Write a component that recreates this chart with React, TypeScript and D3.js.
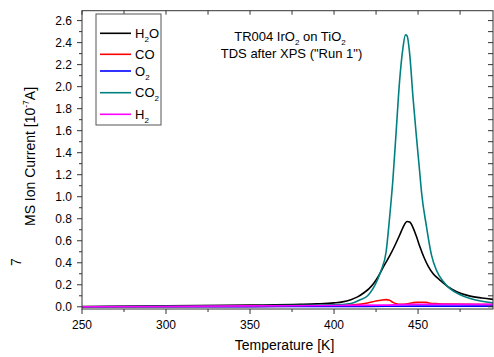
import React from "react";
import * as d3 from "d3";

const seriesNames = ["H2O", "CO", "O2", "CO2", "H2"];
const seriesColors = ["#000000", "#ff0000", "#0000ff", "#008080", "#ff00ff"];

const h2oT = [250, 300, 350, 380, 390, 400, 405, 410, 414, 418, 421, 424, 426.5, 430, 433, 436, 439, 441, 443.5, 445, 447, 449, 451, 453.5, 456, 459, 463, 468, 473, 481, 488, 495];
const h2oV = [0.003, 0.008, 0.015, 0.022, 0.027, 0.036, 0.045, 0.065, 0.09, 0.13, 0.167, 0.22, 0.28, 0.38, 0.46, 0.55, 0.65, 0.72, 0.775, 0.77, 0.72, 0.64, 0.55, 0.45, 0.37, 0.3, 0.243, 0.18, 0.137, 0.097, 0.08, 0.067];

const coT = [250, 350, 400, 410, 415, 420, 425, 428, 431, 433, 435, 437, 440, 443, 446, 449, 452, 455, 457, 462, 470, 480, 495];
const coV = [0.0, 0.003, 0.008, 0.015, 0.022, 0.035, 0.052, 0.06, 0.065, 0.06, 0.04, 0.028, 0.022, 0.025, 0.035, 0.04, 0.042, 0.04, 0.032, 0.028, 0.025, 0.022, 0.02];

const o2T = [250, 350, 420, 450, 495];
const o2V = [0.0, 0.002, 0.004, 0.006, 0.006];

const co2T = [250, 300, 350, 400, 410, 415, 420, 423, 426, 428, 431, 433, 435, 437, 439, 441, 442.5, 443.5, 445, 447, 449, 451, 452, 455, 458, 461, 465, 469, 475, 481, 488, 495];
const co2V = [0.0, 0.004, 0.01, 0.018, 0.03, 0.06, 0.1, 0.16, 0.25, 0.33, 0.5, 0.8, 1.15, 1.6, 2.05, 2.35, 2.47, 2.46, 2.3, 1.9, 1.55, 1.22, 1.05, 0.73, 0.47, 0.33, 0.23, 0.165, 0.11, 0.076, 0.05, 0.035];

const h2T = [250, 300, 350, 400, 430, 440, 450, 495];
const h2V = [0.0, 0.003, 0.008, 0.012, 0.015, 0.02, 0.022, 0.022];

const seriesT = [h2oT, coT, o2T, co2T, h2T];
const seriesV = [h2oV, coV, o2V, co2V, h2V];

const xTicks = [250, 300, 350, 400, 450];
const yTicks = [0, 0.2, 0.4, 0.6, 0.8, 1.0, 1.2, 1.4, 1.6, 1.8, 2.0, 2.2, 2.4, 2.6];

const W = 494;
const H = 357;
const left = 82;
const right = 493;
const top = 10.7;
const bottom = 309;

const font = "'Liberation Sans', Arial, sans-serif";

function Sub({ base, sub, size }: { base: string; sub: string; size: number }) {
  return (
    <>
      {base}
      <tspan fontSize={size * 0.62} dy={size * 0.3}>{sub}</tspan>
    </>
  );
}

function label(name: string, size: number) {
  const m = name.match(/^([A-Z][a-z]?O?|H|O|CO)(\d)?(.*)$/);
  if (name === "H2O") return (<>H<tspan fontSize={size * 0.62} dy={size * 0.3}>2</tspan><tspan dy={-size * 0.3}>O</tspan></>);
  if (name === "CO") return <>CO</>;
  if (name === "O2") return <Sub base="O" sub="2" size={size} />;
  if (name === "CO2") return <Sub base="CO" sub="2" size={size} />;
  if (name === "H2") return <Sub base="H" sub="2" size={size} />;
  return <>{m ? name : name}</>;
}

export default function App() {
  const x = d3.scaleLinear().domain([250, 494.6]).range([left, right]);
  const y = d3.scaleLinear().domain([-0.02, 2.69]).range([bottom, top]);
  const line = d3
    .line<[number, number]>()
    .x((d) => x(d[0]))
    .y((d) => y(d[1]))
    .curve(d3.curveMonotoneX);

  const minorX = d3.range(250, 495, 25);
  const minorY = d3.range(0, 2.65, 0.1);
  const legendY = [33.3, 54.3, 71, 92.7, 114.3];

  return (
    <svg
      width={W}
      height={H}
      style={{ position: "absolute", left: 0, top: 0, background: "#fff" }}
      fontFamily={font}
    >
      <rect x={0} y={0} width={W} height={H} fill="#fff" />
      <defs>
        <clipPath id="plot">
          <rect x={left} y={top} width={right - left} height={bottom - top} />
        </clipPath>
      </defs>
      <g clipPath="url(#plot)">
        {seriesNames.map((n, i) => (
          <path
            key={n}
            d={line(seriesT[i].map((t, j) => [t, seriesV[i][j]] as [number, number])) || ""}
            fill="none"
            stroke={seriesColors[i]}
            strokeWidth={1.6}
          />
        ))}
      </g>
      {/* frame */}
      <rect x={left} y={top} width={right - left} height={bottom - top} fill="none" stroke="#333" strokeWidth={1} />
      {/* bottom ticks */}
      {minorX.map((t) => (
        <line key={"bx" + t} x1={x(t)} x2={x(t)} y1={bottom} y2={bottom + (t % 50 === 0 ? 5 : 3)} stroke="#333" />
      ))}
      {/* top ticks */}
      {minorX.map((t) => (
        <line key={"tx" + t} x1={x(t)} x2={x(t)} y1={top} y2={top + 4} stroke="#333" />
      ))}
      {xTicks.map((t) => (
        <text key={"xl" + t} x={x(t)} y={329} textAnchor="middle" fontSize={12} fill="#000">
          {t}
        </text>
      ))}
      {/* left ticks */}
      {minorY.map((v, i) => (
        <line key={"ly" + i} x1={left} x2={left - (i % 2 === 0 ? 5 : 3)} y1={y(v)} y2={y(v)} stroke="#333" />
      ))}
      {/* right ticks */}
      {minorY.map((v, i) => (
        <line key={"ry" + i} x1={right} x2={right - 5} y1={y(v)} y2={y(v)} stroke="#333" />
      ))}
      {yTicks.map((v) => (
        <text key={"yl" + v} x={72} y={y(v) + 4.3} textAnchor="end" fontSize={12} fill="#000">
          {v.toFixed(1)}
        </text>
      ))}
      {/* axis titles */}
      <text x={284.5} y={350} textAnchor="middle" fontSize={14} fill="#000">
        Temperature [K]
      </text>
      <text transform={`translate(35,156.5) rotate(-90)`} textAnchor="middle" fontSize={14} fill="#000">
        MS Ion Current [10
        <tspan fontSize={8.5} dy={-6}>-7</tspan>
        <tspan dy={6}>A]</tspan>
      </text>
      <text transform={`translate(21,262) rotate(-90)`} textAnchor="middle" fontSize={14} fill="#000">
        7
      </text>
      {/* title */}
      <text x={290} y={41} textAnchor="middle" fontSize={13} fill="#000">
        TR004 IrO<tspan fontSize={8} dy={4}>2</tspan>
        <tspan dy={-4}> on TiO</tspan>
        <tspan fontSize={8} dy={4}>2</tspan>
      </text>
      <text x={291.5} y={58} textAnchor="middle" fontSize={13} fill="#000">
        TDS after XPS ("Run 1")
      </text>
      {/* legend */}
      <rect x={96} y={14} width={65} height={111} fill="#fff" stroke="#555" strokeWidth={1} />
      {seriesNames.map((n, i) => (
        <g key={"lg" + n}>
          <line x1={100} x2={131} y1={legendY[i]} y2={legendY[i]} stroke={seriesColors[i]} strokeWidth={1.6} />
          <text x={135} y={legendY[i] + 4.7} fontSize={13} fill="#000">
            {label(n, 13)}
          </text>
        </g>
      ))}
    </svg>
  );
}
